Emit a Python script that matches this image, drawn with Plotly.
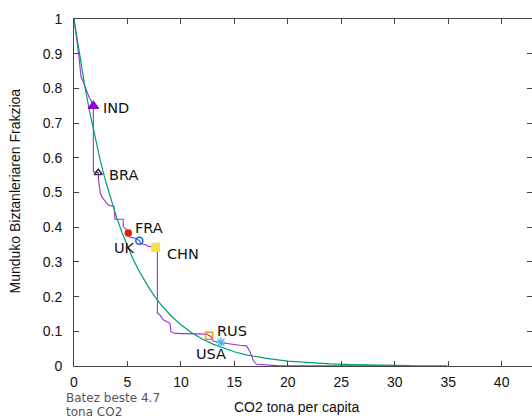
import plotly.graph_objects as go

# Purple step curve: fraction of world population emitting >= x t CO2 per capita
step_x = [0.0, 0.1, 0.3, 0.47, 0.65, 0.87, 1.19, 1.43, 1.65, 1.81, 1.81, 2.27, 2.3, 2.45, 2.59,
          3.2, 3.74, 3.83, 4.6, 4.6, 4.85, 5.0, 5.2, 5.7, 6.1, 6.3, 6.8, 6.9, 7.64, 7.8, 7.8,
          8.03, 8.35, 8.97, 9.07, 9.44, 12.4, 12.7, 12.8, 13.0, 13.8, 15.5, 16.15, 16.45, 16.8,
          17.07, 18.5, 19.0, 25.0, 34.9]
step_y = [1.0, 0.97, 0.93, 0.89, 0.834, 0.819, 0.79, 0.773, 0.762, 0.749, 0.56, 0.557, 0.535, 0.5, 0.488,
          0.464, 0.459, 0.423, 0.423, 0.401, 0.395, 0.385, 0.372, 0.368, 0.362, 0.352, 0.349, 0.345, 0.342, 0.341, 0.152,
          0.147, 0.133, 0.123, 0.099, 0.094, 0.092, 0.088, 0.085, 0.072, 0.067, 0.06, 0.058, 0.041, 0.015,
          0.005, 0.002, 0.001, 0.0008, 0.0005]

# Green curve: average 4.7 t CO2
avg_x = [0, 0.5, 1, 1.5, 2, 2.5, 3, 3.5, 4, 4.5, 5, 5.5, 6, 6.5, 7, 7.5, 8, 9, 10, 11, 12, 13, 14,
         15, 16, 17, 18, 20, 22, 24, 26, 28, 30, 31.5]
avg_y = [1.0, 0.899, 0.808, 0.727, 0.653, 0.587, 0.528, 0.475, 0.427, 0.384, 0.345, 0.310, 0.279,
         0.251, 0.226, 0.203, 0.182, 0.147, 0.119, 0.096, 0.078, 0.063, 0.051, 0.041, 0.033, 0.027,
         0.022, 0.014, 0.009, 0.006, 0.004, 0.003, 0.002, 0.001]

countries = ["IND", "BRA", "FRA", "UK", "CHN", "RUS", "USA"]
country_x = [1.81, 2.27, 5.08, 6.11, 7.64, 12.63, 13.75]
country_y = [0.749, 0.557, 0.383, 0.361, 0.342, 0.087, 0.068]
label_x = [2.55, 3.1, 5.55, 5.9, 8.55, 13.15, 11.2]
label_y = [0.743, 0.550, 0.397, 0.339, 0.323, 0.102, 0.035]
label_anchor = ["left", "left", "left", "right", "left", "left", "left"]
symbols = ["triangle-up", "triangle-up-open", "circle", "circle-open", "square", "square-open", "asterisk-open"]
colors = ["#9400d3", "#333333", "#e51e10", "#0072b2", "#f0e442", "#e69f00", "#56b4e9"]
sizes = [9, 7, 6, 7, 7.5, 7, 8]

x_ticks = [0, 5, 10, 15, 20, 25, 30, 35, 40]
y_ticks = [0, 0.1, 0.2, 0.3, 0.4, 0.5, 0.6, 0.7, 0.8, 0.9, 1]
y_ticktext = ["0", "0.1", "0.2", "0.3", "0.4", "0.5", "0.6", "0.7", "0.8", "0.9", "1"]

fig = go.Figure()
fig.add_trace(go.Scatter(x=step_x, y=step_y, mode="lines",
                         line=dict(color="#9b30e0", width=1.1), hoverinfo="skip", cliponaxis=False))
fig.add_trace(go.Scatter(x=avg_x, y=avg_y, mode="lines",
                         line=dict(color="#009e73", width=1.2), hoverinfo="skip", cliponaxis=False))
for i, c in enumerate(countries):
    fig.add_trace(go.Scatter(x=[country_x[i]], y=[country_y[i]], mode="markers",
                             marker=dict(symbol=symbols[i], color=colors[i], size=sizes[i],
                                         line=dict(color=colors[i], width=1.5)),
                             cliponaxis=False))
    fig.add_annotation(x=label_x[i], y=label_y[i], xref="x", yref="y", text=c, showarrow=False,
                       xanchor=label_anchor[i], yanchor="middle",
                       font=dict(family="DejaVu Sans", size=14.5, color="#111"))

W, H = 532, 419
L, R, T, B = 74, 0, 19, 53
pw, ph = W - L - R, H - T - B

def px_x(p):
    return (p - L) / pw

def px_y(p):
    return (H - B - p) / ph

fig.add_annotation(x=px_x(297), y=px_y(407), xref="paper", yref="paper", text="CO2 tona per capita",
                   showarrow=False, xanchor="center", yanchor="middle",
                   font=dict(family="Liberation Sans", size=14, color="#111"))
fig.add_annotation(x=px_x(15), y=px_y(191.5), xref="paper", yref="paper",
                   text="Munduko Biztanleriaren Frakzioa", textangle=-90,
                   showarrow=False, xanchor="center", yanchor="middle",
                   font=dict(family="Liberation Sans", size=14, color="#111"))
fig.add_annotation(x=px_x(64), y=px_y(398), xref="paper", yref="paper", text="Batez beste 4.7",
                   showarrow=False, xanchor="left", yanchor="middle",
                   font=dict(family="DejaVu Sans", size=12, color="#555"))
fig.add_annotation(x=px_x(64), y=px_y(412), xref="paper", yref="paper", text="tona CO2",
                   showarrow=False, xanchor="left", yanchor="middle",
                   font=dict(family="DejaVu Sans", size=12, color="#555"))

fig.update_layout(
    width=W, height=H, margin=dict(l=L, r=R, t=T, b=B, pad=0),
    paper_bgcolor="white", plot_bgcolor="white", showlegend=False,
    xaxis=dict(range=[0, 42.84], tickvals=x_ticks, ticks="inside", ticklen=5, tickcolor="#444",
               showline=True, linecolor="#444", linewidth=1, mirror="ticks", showgrid=False,
               zeroline=False, ticklabelstandoff=3,
               tickfont=dict(family="Liberation Sans", size=14, color="#111")),
    yaxis=dict(range=[0, 1], tickvals=y_ticks, ticktext=y_ticktext, ticks="inside", ticklen=5,
               tickcolor="#444", showline=True, linecolor="#444", linewidth=1, mirror="ticks",
               showgrid=False, zeroline=False, ticklabelstandoff=8,
               tickfont=dict(family="Liberation Sans", size=14, color="#111")),
)
fig.write_html("out.html")
